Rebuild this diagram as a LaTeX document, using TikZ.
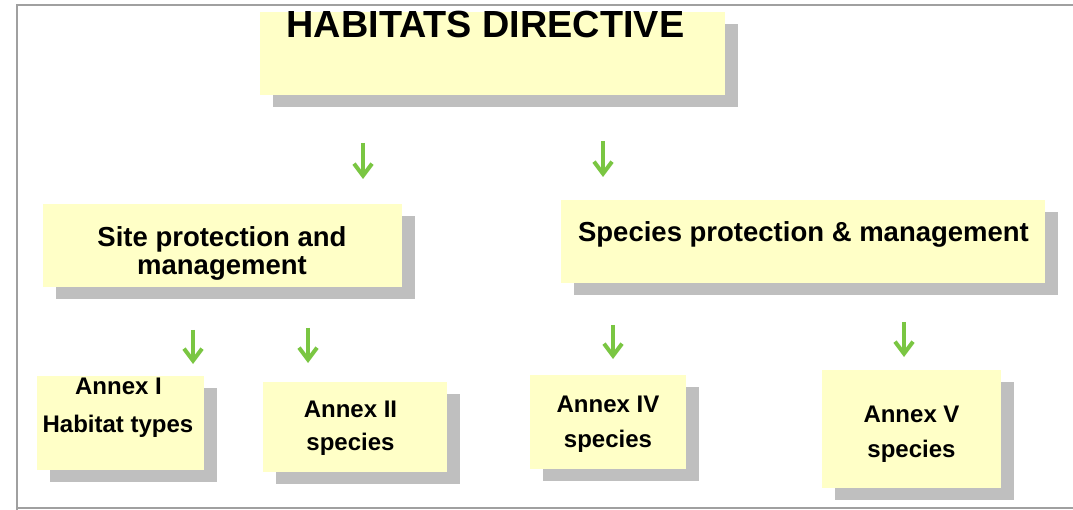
\documentclass[tikz,border=0pt]{standalone}
\usepackage{fontspec}
\setmainfont{Liberation Sans}
\usetikzlibrary{arrows.meta,shadows}
\definecolor{boxyellow}{RGB}{255,255,199}
\definecolor{shadowgray}{RGB}{191,191,191}
\definecolor{arrowgreen}{RGB}{122,198,66}
\definecolor{framegray}{RGB}{160,160,160}
\tikzset{
  hbox/.style={rectangle, fill=boxyellow, inner sep=0pt,
    drop shadow={shadow xshift=13pt, shadow yshift=-12pt, fill=shadowgray, opacity=1}},
  txtbig/.style={font=\bfseries\fontsize{37.8}{42}\selectfont, anchor=base, inner sep=0pt},
  txtmid/.style={font=\bfseries\fontsize{27.5}{32}\selectfont, anchor=base, inner sep=0pt},
  txtsmall/.style={font=\bfseries\fontsize{24}{28}\selectfont, anchor=base, inner sep=0pt},
  garrow/.style={draw=arrowgreen, line width=3.5pt,
    -{Straight Barb[length=12pt,width=18pt,line width=4pt]}},
  frameline/.style={draw=framegray, line width=2pt}
}
\begin{document}
\begin{tikzpicture}[x=1pt,y=-1pt]
\fill[white] (0,0) rectangle (1073,510);
\useasboundingbox (0,0) rectangle (1073,510);
% frame
\coordinate (f1) at (17,510);
\coordinate (f2) at (17,5);
\coordinate (f3) at (1073,5);
\coordinate (f4) at (17,508);
\coordinate (f5) at (1073,508);
\draw[frameline] (f1) -- (f2) -- (f3);
\draw[frameline] (f4) -- (f5);
% boxes
\node[hbox, minimum width=465pt, minimum height=83pt] (top) at (492.5,53.5) {};
\node[hbox, minimum width=359pt, minimum height=83pt] (site) at (222.5,245.5) {};
\node[hbox, minimum width=484pt, minimum height=83pt] (spec) at (803,241.5) {};
\node[hbox, minimum width=167pt, minimum height=94pt] (ann1) at (120.5,423) {};
\node[hbox, minimum width=184pt, minimum height=90pt] (ann2) at (355,427) {};
\node[hbox, minimum width=156pt, minimum height=94pt] (ann4) at (608,422) {};
\node[hbox, minimum width=179pt, minimum height=118pt] (ann5) at (911.5,429) {};
% texts
\node[txtbig] (ttop) at (485.5,38) {HABITATS DIRECTIVE};
\node[txtmid] (tsite1) at (222,247) {Site protection and};
\node[txtmid] (tsite2) at (222,275) {management};
\node[txtmid] (tspec) at (803.5,242) {Species protection \& management};
\node[txtsmall] (ta1a) at (118.5,394) {Annex I};
\node[txtsmall] (ta1b) at (118,432) {Habitat types};
\node[txtsmall] (ta2a) at (350.5,417) {Annex II};
\node[txtsmall] (ta2b) at (350.5,450) {species};
\node[txtsmall] (ta4a) at (608,412) {Annex IV};
\node[txtsmall] (ta4b) at (608,447) {species};
\node[txtsmall] (ta5a) at (911.5,422) {Annex V};
\node[txtsmall] (ta5b) at (911.5,457) {species};
% arrows
\coordinate (a1s) at (363,143); \coordinate (a1e) at (363,179);
\coordinate (a2s) at (603,141); \coordinate (a2e) at (603,177);
\coordinate (a3s) at (193,330); \coordinate (a3e) at (193,364);
\coordinate (a4s) at (308,328); \coordinate (a4e) at (308,363);
\coordinate (a5s) at (613,325); \coordinate (a5e) at (613,359);
\coordinate (a6s) at (904,322); \coordinate (a6e) at (904,357);
\draw[garrow] (a1s) -- (a1e);
\draw[garrow] (a2s) -- (a2e);
\draw[garrow] (a3s) -- (a3e);
\draw[garrow] (a4s) -- (a4e);
\draw[garrow] (a5s) -- (a5e);
\draw[garrow] (a6s) -- (a6e);
\end{tikzpicture}
\end{document}
